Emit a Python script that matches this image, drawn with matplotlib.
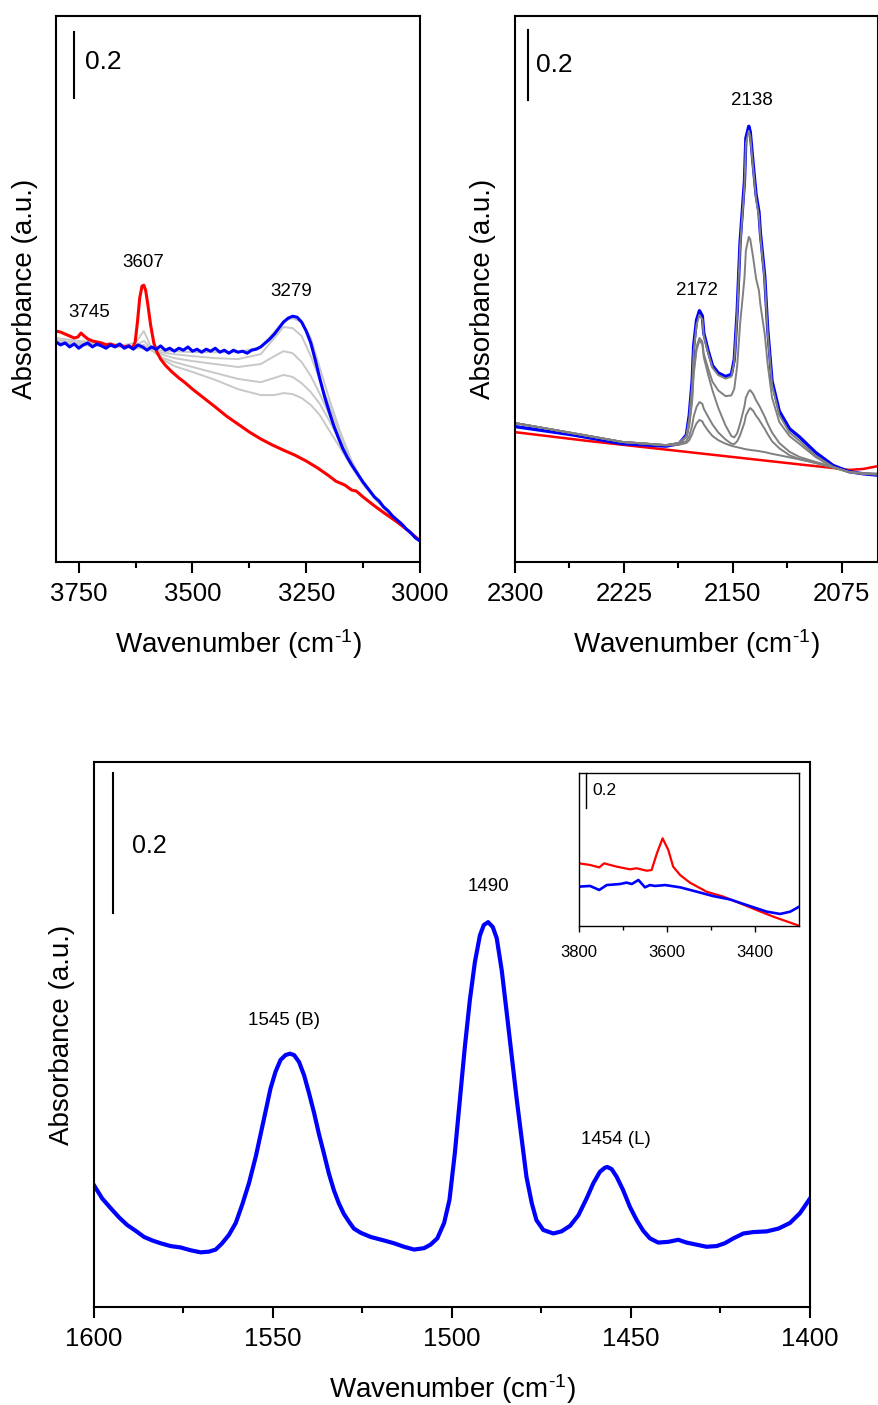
import matplotlib
matplotlib.use("Agg")
import matplotlib.pyplot as plt
from matplotlib.transforms import blended_transform_factory

plt.rcParams['font.family'] = ['Liberation Sans', 'DejaVu Sans']
plt.rcParams['mathtext.fontset'] = 'custom'
plt.rcParams['mathtext.rm'] = 'Liberation Sans'
plt.rcParams['mathtext.it'] = 'Liberation Sans:italic'

# ---- top left: OH region ----
tl_wn_blue = [3800, 3790, 3780, 3770, 3760, 3750, 3740, 3730, 3720, 3710, 3700, 3690, 3680, 3670,
              3660, 3650, 3640, 3630, 3620, 3610, 3600, 3590, 3580, 3570, 3560, 3550, 3540, 3530,
              3520, 3510, 3500, 3490, 3480, 3470, 3460, 3450, 3440, 3430, 3420, 3410, 3400, 3390,
              3380, 3370, 3360, 3350, 3340, 3330, 3320, 3310, 3300, 3290, 3280, 3270, 3260, 3250,
              3240, 3230, 3220, 3210, 3200, 3190, 3180, 3170, 3160, 3150, 3140, 3125, 3110, 3100,
              3090, 3080, 3070, 3060, 3050, 3040, 3030, 3020, 3010, 3000]
tl_blue = [0.667, 0.658, 0.664, 0.652, 0.661, 0.648, 0.658, 0.664, 0.652, 0.661, 0.655, 0.648, 0.658, 0.652,
           0.661, 0.648, 0.655, 0.645, 0.658, 0.652, 0.642, 0.652, 0.645, 0.655, 0.642, 0.648, 0.639, 0.648,
           0.642, 0.652, 0.639, 0.645, 0.636, 0.645, 0.639, 0.648, 0.636, 0.642, 0.633, 0.642, 0.636, 0.639,
           0.633, 0.642, 0.645, 0.652, 0.664, 0.676, 0.691, 0.709, 0.727, 0.739, 0.745, 0.742, 0.727, 0.700,
           0.664, 0.612, 0.555, 0.503, 0.458, 0.415, 0.379, 0.345, 0.318, 0.294, 0.273, 0.242, 0.215, 0.197,
           0.185, 0.167, 0.155, 0.139, 0.127, 0.115, 0.100, 0.088, 0.073, 0.064]

tl_wn_red = [3800, 3790, 3780, 3770, 3760, 3752, 3745, 3738, 3730, 3720, 3710, 3700, 3690, 3680,
             3670, 3660, 3650, 3640, 3632, 3626, 3621, 3616, 3611, 3607, 3603, 3598, 3592, 3585,
             3578, 3570, 3560, 3545, 3530, 3515, 3500, 3475, 3450, 3425, 3400, 3375, 3350, 3325,
             3300, 3275, 3250, 3225, 3200, 3185, 3175, 3165, 3150, 3140, 3125, 3100, 3075, 3050,
             3025, 3000]
tl_red = [0.700, 0.697, 0.691, 0.685, 0.679, 0.682, 0.694, 0.685, 0.676, 0.670, 0.667, 0.664, 0.658, 0.661,
          0.655, 0.658, 0.652, 0.655, 0.648, 0.667, 0.727, 0.800, 0.836, 0.839, 0.824, 0.779, 0.718, 0.664,
          0.636, 0.615, 0.597, 0.576, 0.558, 0.542, 0.524, 0.497, 0.470, 0.442, 0.418, 0.394, 0.373, 0.355,
          0.339, 0.324, 0.306, 0.285, 0.261, 0.245, 0.239, 0.233, 0.218, 0.215, 0.197, 0.170, 0.145, 0.121,
          0.094, 0.064]

tl_wn_gray = [3800, 3750, 3700, 3650, 3625, 3615, 3607, 3600, 3590, 3570, 3540, 3500, 3450, 3400,
              3350, 3320, 3300, 3280, 3260, 3240, 3220, 3200, 3175, 3150, 3125, 3100, 3050, 3000]
tl_grays = [
    [0.679, 0.670, 0.664, 0.658, 0.664, 0.685, 0.700, 0.679, 0.648, 0.618, 0.594, 0.576, 0.552, 0.524,
     0.506, 0.506, 0.512, 0.509, 0.497, 0.476, 0.445, 0.400, 0.345, 0.288, 0.236, 0.194, 0.121, 0.067],
    [0.673, 0.664, 0.661, 0.655, 0.655, 0.664, 0.670, 0.661, 0.642, 0.621, 0.606, 0.591, 0.573, 0.555,
     0.545, 0.558, 0.567, 0.561, 0.542, 0.515, 0.479, 0.430, 0.364, 0.294, 0.236, 0.194, 0.121, 0.067],
    [0.667, 0.661, 0.658, 0.652, 0.652, 0.655, 0.658, 0.652, 0.642, 0.630, 0.618, 0.609, 0.600, 0.591,
     0.600, 0.624, 0.639, 0.633, 0.606, 0.564, 0.509, 0.448, 0.370, 0.297, 0.236, 0.194, 0.121, 0.067],
    [0.664, 0.658, 0.655, 0.652, 0.648, 0.652, 0.652, 0.648, 0.642, 0.636, 0.630, 0.624, 0.618, 0.615,
     0.630, 0.679, 0.712, 0.709, 0.685, 0.624, 0.552, 0.476, 0.385, 0.303, 0.239, 0.194, 0.121, 0.067],
    [0.664, 0.658, 0.655, 0.652, 0.648, 0.648, 0.648, 0.648, 0.645, 0.642, 0.639, 0.636, 0.636, 0.636,
     0.652, 0.697, 0.730, 0.739, 0.727, 0.679, 0.588, 0.497, 0.394, 0.306, 0.239, 0.194, 0.121, 0.067],
]
tl_labels = [("3745", 3726, 0.755), ("3607", 3608, 0.909), ("3279", 3282, 0.820)]

# ---- top right: CO region ----
tr_wn = [2300, 2260, 2226, 2196, 2187, 2182, 2180, 2178, 2177, 2175, 2173, 2171, 2170, 2167, 2164,
         2160, 2155, 2151, 2149, 2147, 2145, 2142, 2141, 2139, 2138, 2136, 2134, 2132, 2131, 2128,
         2126, 2123, 2118, 2111, 2104, 2093, 2081, 2070, 2060, 2050]
tr_blue = [0.387, 0.363, 0.338, 0.331, 0.338, 0.363, 0.419, 0.517, 0.617, 0.691, 0.718, 0.703, 0.654, 0.604, 0.561,
           0.540, 0.530, 0.536, 0.579, 0.716, 0.914, 1.087, 1.211, 1.245, 1.229, 1.137, 1.050, 1.000, 0.939, 0.815,
           0.666, 0.517, 0.431, 0.381, 0.357, 0.313, 0.276, 0.258, 0.252, 0.248]
tr_grays = [
    [0.397, 0.368, 0.343, 0.334, 0.340, 0.360, 0.410, 0.505, 0.600, 0.677, 0.706, 0.693, 0.646, 0.597, 0.555,
     0.534, 0.524, 0.530, 0.572, 0.706, 0.900, 1.073, 1.195, 1.232, 1.216, 1.125, 1.038, 0.988, 0.928, 0.803,
     0.655, 0.506, 0.420, 0.370, 0.346, 0.304, 0.272, 0.257, 0.252, 0.250],
    [0.397, 0.368, 0.343, 0.334, 0.340, 0.358, 0.395, 0.470, 0.545, 0.615, 0.640, 0.630, 0.595, 0.553, 0.515,
     0.490, 0.474, 0.476, 0.495, 0.560, 0.680, 0.810, 0.890, 0.929, 0.922, 0.870, 0.810, 0.775, 0.735, 0.650,
     0.565, 0.470, 0.400, 0.360, 0.337, 0.300, 0.270, 0.257, 0.252, 0.250],
    [0.397, 0.368, 0.343, 0.334, 0.340, 0.356, 0.390, 0.460, 0.535, 0.605, 0.634, 0.622, 0.585, 0.535, 0.490,
     0.440, 0.390, 0.360, 0.356, 0.368, 0.395, 0.445, 0.470, 0.488, 0.491, 0.480, 0.462, 0.448, 0.440, 0.415,
     0.395, 0.370, 0.340, 0.315, 0.300, 0.286, 0.272, 0.257, 0.253, 0.252],
    [0.397, 0.368, 0.343, 0.334, 0.338, 0.345, 0.360, 0.390, 0.415, 0.443, 0.457, 0.452, 0.438, 0.415, 0.393,
     0.370, 0.350, 0.338, 0.337, 0.345, 0.362, 0.398, 0.418, 0.435, 0.440, 0.432, 0.418, 0.407, 0.400, 0.380,
     0.365, 0.345, 0.325, 0.305, 0.294, 0.283, 0.270, 0.257, 0.253, 0.252],
    [0.397, 0.368, 0.343, 0.333, 0.335, 0.340, 0.348, 0.365, 0.378, 0.396, 0.406, 0.402, 0.393, 0.375, 0.360,
     0.348, 0.338, 0.332, 0.330, 0.328, 0.326, 0.323, 0.322, 0.321, 0.320, 0.319, 0.318, 0.317, 0.316, 0.314,
     0.312, 0.309, 0.305, 0.299, 0.293, 0.283, 0.270, 0.257, 0.253, 0.252],
]
tr_wn_red = [2300, 2250, 2200, 2150, 2100, 2075, 2070, 2060, 2050]
tr_red = [0.371, 0.346, 0.323, 0.300, 0.277, 0.266, 0.263, 0.266, 0.274]
tr_labels = [("2172", 2175, 0.777), ("2138", 2137, 1.32)]

# ---- bottom: pyridine region ----
bot_wn = [1600.0, 1597.7, 1595.3, 1593.0, 1590.7, 1588.4, 1586.0, 1583.7, 1581.4, 1578.6, 1575.8, 1573.0,
          1570.2, 1567.9, 1566.0, 1564.2, 1562.3, 1560.4, 1558.6, 1556.7, 1554.8, 1553.4, 1552.0, 1550.7,
          1549.3, 1547.9, 1546.5, 1545.3, 1544.1, 1542.7, 1541.3, 1539.9, 1538.5, 1537.2, 1535.8, 1534.4,
          1533.0, 1531.6, 1530.2, 1528.8, 1527.4, 1525.5, 1522.7, 1519.0, 1516.2, 1513.4, 1510.6, 1507.8,
          1506.0, 1504.1, 1502.2, 1500.7, 1499.2, 1497.8, 1496.4, 1495.0, 1493.6, 1492.2, 1491.1, 1489.9,
          1488.6, 1487.5, 1486.1, 1484.7, 1483.3, 1481.9, 1480.5, 1479.2, 1477.7, 1476.4, 1474.5, 1471.7,
          1469.4, 1467.0, 1464.7, 1462.4, 1460.5, 1458.7, 1457.3, 1456.6, 1455.4, 1454.0, 1452.2, 1450.3,
          1448.4, 1446.6, 1444.7, 1442.4, 1439.6, 1436.8, 1434.5, 1431.7, 1428.9, 1426.1, 1423.8, 1421.4,
          1418.6, 1415.8, 1412.1, 1408.8, 1405.6, 1402.8, 1400.0]
bot_blue = [0.174, 0.155, 0.141, 0.128, 0.117, 0.109, 0.100, 0.095, 0.091, 0.087, 0.085, 0.081,
            0.078, 0.079, 0.082, 0.091, 0.103, 0.120, 0.146, 0.177, 0.215, 0.248, 0.281, 0.312,
            0.336, 0.353, 0.360, 0.362, 0.360, 0.350, 0.331, 0.305, 0.277, 0.248, 0.220, 0.191,
            0.167, 0.148, 0.133, 0.122, 0.112, 0.106, 0.100, 0.095, 0.091, 0.086, 0.082, 0.084,
            0.089, 0.098, 0.120, 0.153, 0.220, 0.296, 0.372, 0.439, 0.493, 0.531, 0.546, 0.550,
            0.543, 0.527, 0.481, 0.420, 0.358, 0.296, 0.239, 0.186, 0.148, 0.124, 0.110, 0.105,
            0.108, 0.116, 0.131, 0.155, 0.177, 0.193, 0.199, 0.200, 0.197, 0.186, 0.167, 0.143,
            0.124, 0.109, 0.098, 0.092, 0.093, 0.096, 0.092, 0.089, 0.086, 0.087, 0.091, 0.098,
            0.105, 0.107, 0.108, 0.112, 0.120, 0.134, 0.155]
bot_labels = [("1545 (B)", 1546.9, 0.41), ("1490", 1489.7, 0.601), ("1454 (L)", 1454.3, 0.24)]

# ---- inset ----
ins_wn_red = [3800, 3775, 3754, 3743, 3714, 3684, 3669, 3646, 3635, 3623, 3610, 3597, 3586, 3570,
              3548, 3510, 3472, 3434, 3396, 3358, 3300]
ins_red = [0.358, 0.349, 0.335, 0.358, 0.339, 0.324, 0.330, 0.316, 0.320, 0.415, 0.501, 0.434, 0.339, 0.291,
           0.248, 0.196, 0.168, 0.130, 0.091, 0.053, 0.002]
ins_wn_blue = [3800, 3775, 3754, 3737, 3707, 3692, 3680, 3665, 3650, 3639, 3627, 3604, 3570, 3532,
               3495, 3457, 3419, 3373, 3343, 3320, 3300]
ins_blue = [0.225, 0.229, 0.206, 0.234, 0.240, 0.248, 0.240, 0.263, 0.221, 0.234, 0.229, 0.234, 0.221, 0.196,
            0.171, 0.152, 0.120, 0.082, 0.069, 0.082, 0.110]

XLABEL = "Wavenumber (cm$^{\\mathregular{\u20101}}$)"
YLABEL = "Absorbance (a.u.)"


def style_axis(ax, major, minor, fs=18.5, big=True):
    for s in ax.spines.values():
        s.set_linewidth(1.5 if big else 1.0)
    ax.set_xticks(major)
    ax.set_xticks(minor, minor=True)
    ax.set_yticks([])
    if big:
        ax.tick_params(axis='x', which='major', direction='out', length=8, width=1.5,
                       labelsize=fs, pad=6.5)
        ax.tick_params(axis='x', which='minor', direction='out', length=4.5, width=1.5)
    else:
        ax.tick_params(axis='x', which='major', direction='out', length=4.5, width=1.0,
                       labelsize=fs, pad=9.5)
        ax.tick_params(axis='x', which='minor', direction='out', length=3, width=1.0)


def scale_bar(ax, xf, y0, txf, ty, fs, lw=1.5):
    trans = blended_transform_factory(ax.transAxes, ax.transData)
    ax.plot([xf, xf], [y0, y0 + 0.2], color='k', lw=lw, transform=trans, clip_on=False)
    ax.text(txf, ty, "0.2", transform=trans, fontsize=fs, ha='left', va='center')


fig = plt.figure(figsize=(8.79, 14.05), dpi=100)

# top left
ax1 = fig.add_axes([0.0637, 0.6, 0.4141, 0.3886])
for g in tl_grays:
    ax1.plot(tl_wn_gray, g, color='#c8c8c8', lw=1.4)
ax1.plot(tl_wn_red, tl_red, color='#ff0000', lw=2.2)
ax1.plot(tl_wn_blue, tl_blue, color='#0000ff', lw=2.2)
ax1.set_xlim(3800, 3000)
ax1.set_ylim(0, 1.655)
style_axis(ax1, [3750, 3500, 3250, 3000], [3625, 3375, 3125])
for t, x, y in tl_labels:
    ax1.text(x, y, t, fontsize=13.5, ha='center', va='center')
scale_bar(ax1, 0.049, 1.406, 0.080, 1.515, 19)
ax1.set_xlabel(XLABEL, fontsize=20)
ax1.set_ylabel(YLABEL, fontsize=20)
ax1.xaxis.set_label_coords(0.5, -0.120)
ax1.yaxis.set_label_coords(-0.049, 0.5)

# top right
ax2 = fig.add_axes([0.5859, 0.6, 0.4130, 0.3886])
ax2.plot(tr_wn_red, tr_red, color='#ff0000', lw=1.8)
ax2.plot(tr_wn, tr_blue, color='#0000ff', lw=2.4)
for g in tr_grays:
    ax2.plot(tr_wn, g, color='#808080', lw=1.4)
ax2.set_xlim(2300, 2050)
ax2.set_ylim(0, 1.56)
style_axis(ax2, [2300, 2225, 2150, 2075], [2262.5, 2187.5, 2112.5])
for t, x, y in tr_labels:
    ax2.text(x, y, t, fontsize=13.5, ha='center', va='center')
scale_bar(ax2, 0.036, 1.32, 0.058, 1.42, 19)
ax2.set_xlabel(XLABEL, fontsize=20)
ax2.set_ylabel(YLABEL, fontsize=20)
ax2.xaxis.set_label_coords(0.5, -0.120)
ax2.yaxis.set_label_coords(-0.052, 0.5)

# bottom
ax3 = fig.add_axes([0.1069, 0.0698, 0.8146, 0.3879])
ax3.plot(bot_wn, bot_blue, color='#0000ff', lw=3.0)
ax3.set_xlim(1600, 1400)
ax3.set_ylim(0, 0.779)
style_axis(ax3, [1600, 1550, 1500, 1450, 1400], [1575, 1525, 1475, 1425])
for t, x, y in bot_labels:
    ax3.text(x, y, t, fontsize=13.5, ha='center', va='center')
scale_bar(ax3, 0.0265, 0.563, 0.0525, 0.659, 18)
ax3.set_xlabel(XLABEL, fontsize=20)
ax3.set_ylabel(YLABEL, fontsize=20)
ax3.xaxis.set_label_coords(0.5, -0.1205)
ax3.yaxis.set_label_coords(-0.0265, 0.5)

# inset
ax4 = fig.add_axes([0.6587, 0.3409, 0.2503, 0.1089])
ax4.plot(ins_wn_red, ins_red, color='#ff0000', lw=1.6)
ax4.plot(ins_wn_blue, ins_blue, color='#0000ff', lw=1.9)
ax4.set_xlim(3800, 3300)
ax4.set_ylim(0, 0.874)
style_axis(ax4, [3800, 3600, 3400], [3700, 3500], fs=12, big=False)
scale_bar(ax4, 0.032, 0.674, 0.062, 0.777, 12.5, lw=1.0)

fig.savefig("out.png", dpi=100)
